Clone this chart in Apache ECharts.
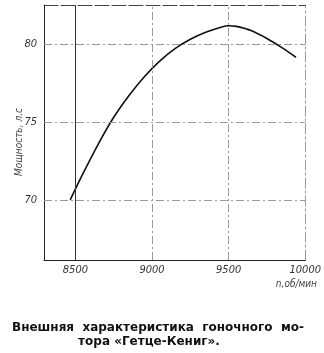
<!DOCTYPE html>
<html>
<head>
<meta charset="utf-8">
<script src="https://cdn.jsdelivr.net/npm/echarts@6/dist/echarts.min.js"></script>
<style>html,body{margin:0;padding:0;background:#fff;}#c{width:324px;height:353px;}</style>
</head>
<body>
<div id="c"></div>
<script>
var rpm = [8466, 8550, 8650, 8750, 8850, 8950, 9050, 9150, 9250, 9350, 9450, 9500, 9550, 9650, 9750, 9850, 9939];
var power = [70.0, 71.7, 73.6, 75.3, 76.7, 77.9, 78.9, 79.7, 80.3, 80.75, 81.08, 81.17, 81.13, 80.85, 80.35, 79.75, 79.15];
var xTicks = [8500, 9000, 9500, 10000];
var yTicks = [70, 75, 80];
var yName = 'Мощность, л.с';
var xName = 'n,об/мин';
var titleLines = ['Внешняя  характеристика  гоночного  мо-', 'тора «Гетце-Кениг».'];

var chart = echarts.init(document.getElementById('c'), null, {renderer: 'canvas'});
var gridStyle = {color: '#999', width: 1, type: [8, 3, 2, 3]};
var xLines = xTicks.filter(function(v){return v < 10000;}).map(function(v){
  return {xAxis: v, lineStyle: v === 8500 ? {color: '#333', width: 1, type: 'solid'} : gridStyle};
});
var yLines = yTicks.map(function(v){ return {yAxis: v, lineStyle: gridStyle}; });
var plain = function(v){ return String(v); };
chart.setOption({
  animation: false,
  grid: {left: 44, right: 14, top: 5, bottom: 93},
  xAxis: [{
    type: 'value', min: 8295, max: 10000, position: 'bottom',
    axisLine: {lineStyle: {color: '#222', width: 1}},
    axisTick: {show: false}, splitLine: {show: false},
    axisLabel: {customValues: xTicks, formatter: plain, fontFamily: 'DejaVu Sans Condensed', fontStyle: 'italic', fontSize: 11, color: '#333', margin: 5}
  }, {
    type: 'value', min: 8295, max: 10000, position: 'top',
    axisLine: {lineStyle: {color: '#444', width: 1, type: [14, 3]}},
    axisTick: {show: false}, splitLine: {show: false}, axisLabel: {show: false}
  }],
  yAxis: [{
    type: 'value', min: 66.15, max: 82.5, position: 'left',
    axisLine: {show: true, lineStyle: {color: '#222', width: 1}},
    axisTick: {show: false}, splitLine: {show: false},
    axisLabel: {customValues: yTicks, formatter: plain, fontFamily: 'DejaVu Sans Condensed', fontStyle: 'italic', fontSize: 11, color: '#333', margin: 7}
  }, {
    type: 'value', min: 66.15, max: 82.5, position: 'right',
    axisLine: {show: true, lineStyle: {color: '#999', width: 1, type: [10, 3, 2, 3]}},
    axisTick: {show: false}, splitLine: {show: false}, axisLabel: {show: false}
  }],
  series: [{
    type: 'line', smooth: 0.3, symbol: 'none',
    data: rpm.map(function(x, i){ return [x, power[i]]; }),
    lineStyle: {color: '#111', width: 1.6},
    markLine: {silent: true, symbol: 'none', label: {show: false}, data: xLines.concat(yLines)}
  }],
  graphic: [
    {type: 'text', x: 19, y: 142, rotation: Math.PI / 2,
     style: {text: yName, fontFamily: 'DejaVu Sans Condensed', fontStyle: 'italic', fontSize: 10, fill: '#444', align: 'center', verticalAlign: 'middle'}},
    {type: 'text', x: 317, y: 284,
     style: {text: xName, fontFamily: 'DejaVu Sans Condensed', fontStyle: 'italic', fontSize: 10, fill: '#444', align: 'right', verticalAlign: 'middle'}},
    {type: 'text', x: 158, y: 328,
     style: {text: titleLines[0], fontFamily: 'DejaVu Sans', fontWeight: 'bold', fontSize: 12, fill: '#111', align: 'center', verticalAlign: 'middle'}},
    {type: 'text', x: 149, y: 342,
     style: {text: titleLines[1], fontFamily: 'DejaVu Sans', fontWeight: 'bold', fontSize: 12, fill: '#111', align: 'center', verticalAlign: 'middle'}}
  ]
});
</script>
</body>
</html>
